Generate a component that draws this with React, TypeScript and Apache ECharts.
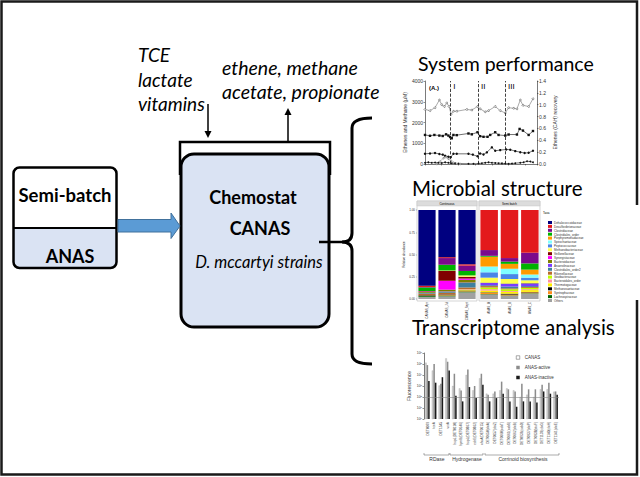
import React, { useEffect, useRef } from "react";
import * as echarts from "echarts";

// ---------- System performance (line chart) ----------
const recDays = [0, 15, 30, 43, 50, 58, 65, 72, 78, 85, 95, 125, 140, 157, 165, 180, 190, 210, 225, 240, 250, 265, 275, 285, 293, 310, 323];
const recovery = [0.92, 0.9, 0.95, 1.08, 1.0, 0.97, 1.03, 0.97, 0.84, 0.89, 0.89, 0.92, 0.91, 0.97, 0.93, 0.88, 0.9, 0.97, 0.9, 0.86, 0.95, 0.94, 0.93, 1.08, 0.99, 0.97, 1.1];
const sqDays = [0, 15, 28, 43, 53, 63, 70, 75, 80, 85, 95, 130, 140, 157, 165, 175, 187, 195, 210, 220, 240, 250, 275, 283, 293, 310, 323];
const ethene = [1400, 1360, 1400, 1370, 1350, 1430, 1370, 1300, 1240, 1400, 1390, 1470, 1430, 1530, 1340, 1310, 1310, 1400, 1530, 1400, 1370, 1420, 1420, 1690, 1610, 1400, 1590];
const ciDays = [0, 15, 30, 43, 53, 60, 70, 77, 85, 95, 130, 143, 157, 165, 175, 185, 200, 210, 225, 243, 255, 270, 285, 298, 310, 323];
const methane = [490, 510, 530, 480, 450, 400, 350, 330, 490, 490, 490, 450, 370, 510, 460, 560, 800, 640, 670, 700, 690, 620, 570, 530, 540, 640];
const lowDays = [0, 10, 20, 30, 40, 50, 60, 70, 80, 90, 100, 130, 145, 160, 170, 180, 190, 200, 210, 220, 230, 240, 250, 260, 270, 285, 295, 305, 315, 323];
const vcVals = [60, 80, 60, 70, 60, 50, 80, 60, 40, 30, 20, 10, 10, 20, 40, 60, 80, 60, 50, 40, 30, 20, 10, 20, 40, 60, 80, 130, 120, 80];
const dcDays = [35, 45, 55, 62, 70, 78, 85, 95, 105];
const dcVals = [0, 120, 280, 330, 250, 150, 60, 10, 0];
const phaseDays = [77, 160, 241];
const phaseLabels = ["I", "II", "III"];

// ---------- Microbial structure (stacked bars) ----------
const taxa = [
  "Dehalococcoidaceae", "Desulfovibrionaceae", "Clostridiaceae", "Clostridiales_order",
  "Porphyromonadaceae", "Spirochaetaceae", "Peptococcaceae", "Methanobacteriaceae",
  "Veillonellaceae", "Synergistaceae", "Bacteroidaceae", "Anaerolinaceae",
  "Clostridiales_order2", "Rikenellaceae", "Geobacteraceae", "Bacteroidales_order",
  "Thermotogaceae", "Methanosaetaceae", "Syntrophaceae", "Lachnospiraceae", "Others",
];
const taxaColors = [
  "#000080", "#e31a1c", "#7b0a8c", "#00b300", "#ff9a00", "#7fffff", "#4a86e8", "#ffff4d",
  "#800000", "#ff00ff", "#808000", "#7a3cff", "#3f7f9f", "#b86b2e", "#bfff00", "#ff8fa0",
  "#ffee00", "#000000", "#ff8c1a", "#006400", "#a0a0a0",
];
const contSamples = ["CANAS_Apr", "CANAS_Jul", "CANAS_Sept"];
const semiSamples = ["ANAS_A", "ANAS_B", "ANAS_C"];
const contA = [0.85, 0.015, 0.005, 0.04, 0, 0, 0, 0, 0.005, 0.005, 0.01, 0, 0.01, 0.015, 0, 0, 0, 0.005, 0.005, 0.01, 0.025];
const contB = [0.53, 0.01, 0.075, 0.065, 0, 0, 0, 0.005, 0.11, 0.1, 0.02, 0.005, 0.01, 0.02, 0, 0, 0, 0.005, 0.005, 0.01, 0.03];
const contC = [0.61, 0.015, 0.06, 0.05, 0, 0, 0, 0.015, 0.02, 0.015, 0.03, 0.005, 0.05, 0.02, 0, 0.005, 0.01, 0.005, 0.005, 0.01, 0.075];
const semiA = [0, 0.45, 0.065, 0.01, 0.11, 0.065, 0.06, 0.055, 0, 0, 0.005, 0.025, 0.01, 0.015, 0.02, 0.015, 0.02, 0.005, 0.015, 0.005, 0.05];
const semiB = [0, 0.54, 0.04, 0.025, 0.055, 0.06, 0.055, 0.05, 0, 0, 0.005, 0.03, 0.02, 0.01, 0.02, 0.01, 0.02, 0.01, 0.01, 0.005, 0.035];
const semiC = [0, 0.48, 0.12, 0.07, 0.055, 0.035, 0.03, 0.03, 0, 0, 0.005, 0.03, 0.01, 0.01, 0.015, 0.01, 0.02, 0.005, 0.01, 0.005, 0.06];

// ---------- Transcriptome analysis (log bars) ----------
const genes = [
  "DET0079", "tceA", "DET1545", "vcrA",
  "hupL(DET0110)", "hymB(DET0146)", "hupL(DET0867)", "echE(DET0862)", "vhuA(DET0615)",
  "DET0650(cbiA)", "DET0657(cbiZ)", "DET0660(cobT)", "DET0661(cobS)", "DET0662(cbiB)",
  "DET0936(cobD)", "DET0937(cbiP)", "DET0938(btuF)", "DET1139(cbiG)", "DET1140(cbiH)", "DET1141(cbiE)",
];
const geneGroups = ["RDase", "Hydrogenase", "Corrinoid biosynthesis"];
const canas = [1.3e5, 2.5e4, 1.1e3, 3.2e5, 1.0e3, 6.0e2, 1.0e4, 4.0e2, 5.0e3, 2.0e2, 2.0e2, 4.0e2, 6.0e2, 4.0e2, 1.0e2, 1.6e2, 1.0e2, 5.0e2, 5.0e2, 3.0e2];
const anasActive = [8.0e4, 1.0e5, 1.6e3, 1.6e5, 1.3e4, 4.0e2, 3.2e4, 1.0e3, 1.3e4, 1.6e2, 3.2e2, 2.5e3, 5.0e2, 3.2e2, 1.6e3, 5.0e2, 5.0e2, 1.3e3, 2.0e3, 3.2e2];
const anasInactive = [2.9e3, 2.0e3, 6.3e3, 2.5e4, 1.3e2, 4.0e1, 8.0e2, 8.0e1, 1.3e3, 4.0e1, 8.0e1, 2.0e2, 4.0e1, 1.3e1, 4.0e1, 4.0e1, 3.2e1, 3.2e2, 2.0e2, 1.6e2];

const BRACE =
  "M372,118 Q352,118 352,128 L352,233 Q352,242 342,242 Q352,242 352,251 L352,354 Q352,364 372,364";
echarts.graphic.registerShape("brace", echarts.graphic.extendPath(BRACE, {}));

const SANS = "Liberation Sans";
const BIG = "Lato";

function zip(xs: number[], ys: number[]) {
  return xs.map((x, i) => [x, ys[i]]);
}

export default function App() {
  const ref = useRef<HTMLDivElement>(null);
  useEffect(() => {
    if (!ref.current) return;
    const chart = echarts.init(ref.current, undefined, { renderer: "svg" });
    const tiny = { fontFamily: SANS, color: "#333" };

    const stackSeries: any[] = [];
    for (let i = taxa.length - 1; i >= 0; i--) {
      stackSeries.push({
        type: "bar", name: taxa[i], xAxisIndex: 1, yAxisIndex: 2, stack: "cont",
        barWidth: "86%", itemStyle: { color: taxaColors[i] },
        data: [contA[i], contB[i], contC[i]],
      });
      stackSeries.push({
        type: "bar", name: taxa[i], xAxisIndex: 2, yAxisIndex: 3, stack: "semi",
        barWidth: "86%", itemStyle: { color: taxaColors[i] },
        data: [semiA[i], semiB[i], semiC[i]],
      });
    }

    const txt = (text: string, x: number, y: number, o: any = {}) => ({
      type: "text", silent: true,
      style: { text, x, y, fill: "#000", fontFamily: BIG, fontSize: 19, align: "left", verticalAlign: "middle", ...o },
    });

    const axisLineBlack = { show: true, lineStyle: { color: "#222", width: 0.6 } };
    const openMarker = { color: "#fff", borderColor: "#444", borderWidth: 0.5 };

    chart.setOption({
      animation: false,
      backgroundColor: "#fff",
      grid: [
        { left: 425, top: 81, width: 112, height: 83 },
        { left: 417, top: 210, width: 60, height: 89 },
        { left: 479, top: 210, width: 61, height: 89 },
        { left: 424, top: 353, width: 135, height: 66 },
      ],
      xAxis: [
        { gridIndex: 0, type: "value", min: 0, max: 335, axisLabel: { show: false }, axisTick: { length: 1.5, lineStyle: { width: 0.5 } }, splitLine: { show: false }, axisLine: axisLineBlack },
        { gridIndex: 1, type: "category", data: contSamples, axisLabel: { rotate: 90, fontSize: 3, interval: 0, margin: 3, ...tiny }, axisTick: { show: false }, axisLine: { show: false } },
        { gridIndex: 2, type: "category", data: semiSamples, axisLabel: { rotate: 90, fontSize: 3, interval: 0, margin: 3, ...tiny }, axisTick: { show: false }, axisLine: { show: false } },
        { gridIndex: 3, type: "category", data: genes, axisLabel: { rotate: 90, fontSize: 3.2, interval: 0, margin: 3, ...tiny }, axisTick: { show: false }, axisLine: { show: false } },
      ],
      yAxis: [
        { gridIndex: 0, type: "value", min: 0, max: 4000, interval: 1000, name: "Ethenes and Methane (µM)", nameLocation: "middle", nameGap: 15, nameTextStyle: { fontSize: 5, ...tiny }, axisLabel: { fontSize: 5, margin: 2, formatter: (v: number) => String(v), ...tiny }, axisLine: axisLineBlack, axisTick: { show: true, length: 1.5, lineStyle: { width: 0.5 } }, splitLine: { show: false } },
        { gridIndex: 0, type: "value", position: "right", min: 0, max: 1.4, interval: 0.2, name: "Ethenes (CAH) recovery", nameLocation: "middle", nameGap: 15, nameRotate: 90, nameTextStyle: { fontSize: 5, ...tiny }, axisLabel: { fontSize: 5, margin: 2, formatter: (v: number) => v.toFixed(1), ...tiny }, axisLine: axisLineBlack, axisTick: { show: true, length: 1.5, lineStyle: { width: 0.5 } }, splitLine: { show: false } },
        { gridIndex: 1, type: "value", min: 0, max: 1, interval: 0.25, name: "Relative abundance", nameLocation: "middle", nameGap: 9, nameTextStyle: { fontSize: 3, ...tiny }, axisLabel: { fontSize: 3, margin: 2, formatter: (v: number) => v.toFixed(2), ...tiny }, axisLine: { show: false }, axisTick: { show: true, length: 1, lineStyle: { width: 0.4, color: "#555" } }, splitLine: { show: false } },
        { gridIndex: 2, type: "value", min: 0, max: 1, show: false },
        { gridIndex: 3, type: "log", logBase: 10, min: 1, max: 1e6, name: "Fluorescence", nameLocation: "middle", nameGap: 13, nameTextStyle: { fontSize: 5, ...tiny },
          axisLabel: { fontSize: 3.5, margin: 2, ...tiny, formatter: (v: number) => "10{s|" + Math.round(Math.log10(v)) + "}", rich: { s: { fontSize: 2.5, padding: [0, 0, 2, 0], fontFamily: SANS, color: "#333" } } },
          axisLine: axisLineBlack, axisTick: { show: true, length: 1.5, lineStyle: { width: 0.5 } }, splitLine: { show: false } },
      ],
      legend: [
        { data: taxa, left: 543, top: 216, orient: "vertical", icon: "rect", itemWidth: 4, itemHeight: 3, itemGap: 0.9, selectedMode: false, textStyle: { fontSize: 3, fontFamily: SANS, color: "#333", padding: [0, 0, 0, -3] } },
        { data: [
            { name: "CANAS", itemStyle: { color: "#fff", borderColor: "#555", borderWidth: 0.5 } },
            { name: "ANAS-active" },
            { name: "ANAS-inactive" },
          ], left: 511, top: 350, orient: "vertical", icon: "rect", itemWidth: 3.5, itemHeight: 3.5, itemGap: 5, selectedMode: false, textStyle: { fontSize: 4.5, fontFamily: SANS, color: "#333" } },
      ],
      series: [
        { type: "line", name: "recovery", xAxisIndex: 0, yAxisIndex: 1, data: zip(recDays, recovery), symbol: "circle", symbolSize: 1.8, lineStyle: { color: "#555", width: 0.5 }, itemStyle: openMarker,
          markLine: { silent: true, symbol: "none", label: { show: false }, lineStyle: { type: "dashed", color: "#111", width: 0.8 }, data: phaseDays.map((d) => ({ xAxis: d })) } },
        { type: "line", name: "ethene", xAxisIndex: 0, yAxisIndex: 0, data: zip(sqDays, ethene), symbol: "rect", symbolSize: 2.4, lineStyle: { color: "#111", width: 0.6 }, itemStyle: { color: "#111", borderWidth: 0 } },
        { type: "line", name: "methane", xAxisIndex: 0, yAxisIndex: 0, data: zip(ciDays, methane), symbol: "circle", symbolSize: 2.4, lineStyle: { color: "#111", width: 0.6 }, itemStyle: { color: "#111", borderWidth: 0 } },
        { type: "line", name: "VC", xAxisIndex: 0, yAxisIndex: 0, data: zip(lowDays, vcVals), symbol: "circle", symbolSize: 1.8, lineStyle: { color: "#111", width: 0.6 }, itemStyle: { color: "#111", borderWidth: 0 } },
        { type: "line", name: "DCE", xAxisIndex: 0, yAxisIndex: 0, data: zip(dcDays, dcVals), symbol: "circle", symbolSize: 1.6, lineStyle: { color: "#333", width: 0.4, type: "dotted" }, itemStyle: openMarker },
        ...stackSeries,
        { type: "bar", name: "CANAS", xAxisIndex: 3, yAxisIndex: 4, data: canas, barGap: "0%", barCategoryGap: "32%", itemStyle: { color: "#d4d4d4", borderColor: "#777", borderWidth: 0.2 },
          markLine: { silent: true, symbol: "none", label: { show: false }, lineStyle: { type: "solid", color: "#888", width: 0.6 }, data: [{ yAxis: 100 }] } },
        { type: "bar", name: "ANAS-active", xAxisIndex: 3, yAxisIndex: 4, data: anasActive, itemStyle: { color: "#8c8c8c" } },
        { type: "bar", name: "ANAS-inactive", xAxisIndex: 3, yAxisIndex: 4, data: anasInactive, itemStyle: { color: "#1a1a1a" } },
      ],
      graphic: {
        elements: [
          // outer frame
          { type: "polyline", silent: true, shape: { points: [[637, 205], [637, 1.5], [1.5, 1.5], [1.5, 474.5], [637, 474.5], [637, 300]] }, style: { stroke: "#1a1a1a", fill: "none", lineWidth: 2.5 } },
          // inputs / outputs text
          txt("TCE", 138, 54, { fontStyle: "italic" }),
          txt("lactate", 138, 79, { fontStyle: "italic" }),
          txt("vitamins", 138, 103, { fontStyle: "italic" }),
          txt("ethene, methane", 222, 67, { fontStyle: "italic", fontSize: 19.5 }),
          txt("acetate, propionate", 222, 91, { fontStyle: "italic", fontSize: 19.5 }),
          // arrows
          { type: "line", silent: true, shape: { x1: 208, y1: 104, x2: 208, y2: 133 }, style: { stroke: "#000", lineWidth: 1.5 } },
          { type: "polygon", silent: true, shape: { points: [[204.5, 131], [211.5, 131], [208, 138]] }, style: { fill: "#000" } },
          { type: "line", silent: true, shape: { x1: 288, y1: 142, x2: 288, y2: 113 }, style: { stroke: "#000", lineWidth: 1.5 } },
          { type: "polygon", silent: true, shape: { points: [[284.5, 115], [291.5, 115], [288, 108]] }, style: { fill: "#000" } },
          // chemostat vessel
          { type: "polyline", silent: true, shape: { points: [[180, 175], [180, 142], [330, 142], [330, 175]] }, style: { stroke: "#000", fill: "none", lineWidth: 2.5 } },
          { type: "rect", silent: true, shape: { x: 181, y: 154, width: 148, height: 173, r: 13 }, style: { fill: "#dae3f3", stroke: "#000", lineWidth: 3 } },
          txt("Chemostat", 253, 197, { fontWeight: "bold", align: "center", fontSize: 18 }),
          txt("CANAS", 260, 228, { fontWeight: "bold", align: "center", fontSize: 18 }),
          txt("D. mccartyi strains", 259, 262, { fontStyle: "italic", align: "center", fontSize: 16.5 }),
          // semi-batch vessel
          { type: "rect", silent: true, shape: { x: 13.5, y: 167.5, width: 103, height: 100.5, r: 6 }, style: { fill: "#fff", stroke: "none" } },
          { type: "rect", silent: true, shape: { x: 13.5, y: 228, width: 103, height: 40, r: [0, 0, 6, 6] }, style: { fill: "#dae3f3", stroke: "none" } },
          { type: "line", silent: true, shape: { x1: 13.5, y1: 228, x2: 116.5, y2: 228 }, style: { stroke: "#000", lineWidth: 2 } },
          { type: "rect", silent: true, shape: { x: 13.5, y: 167.5, width: 103, height: 100.5, r: 6 }, style: { fill: "none", stroke: "#000", lineWidth: 2.5 } },
          txt("Semi-batch", 65, 195, { fontWeight: "bold", align: "center", fontSize: 18.5 }),
          txt("ANAS", 70, 256, { fontWeight: "bold", align: "center", fontSize: 18 }),
          // transfer arrow
          { type: "polygon", silent: true, shape: { points: [[118, 219.5], [171, 219.5], [171, 213], [180, 226], [171, 238.5], [171, 232], [118, 232]] }, style: { fill: "#5b9bd5", stroke: "#41719c", lineWidth: 1 } },
          // connector + brace
          { type: "line", silent: true, shape: { x1: 319, y1: 242, x2: 344, y2: 242 }, style: { stroke: "#000", lineWidth: 2.5 } },
          { type: "brace", silent: true, style: { stroke: "#000", fill: "none", lineWidth: 3 } },
          // right-hand titles
          txt("System performance", 418, 63, { fontSize: 19.5 }),
          txt("Microbial structure", 412, 188, { fontSize: 20.5 }),
          txt("Transcriptome analysis", 412, 327, { fontSize: 20.5 }),
          // line chart annotations
          txt("(A.)", 429, 88, { fontFamily: SANS, fontSize: 6, fontWeight: "bold" }),
          ...phaseDays.map((d, i) => txt(phaseLabels[i], 425 + (d / 335) * 112 + 2.5, 86, { fontFamily: SANS, fontSize: 8 })),
          // facet panels
          { type: "rect", silent: true, shape: { x: 417, y: 201, width: 60, height: 100 }, style: { fill: "none", stroke: "#bbb", lineWidth: 0.6 } },
          { type: "rect", silent: true, shape: { x: 479, y: 201, width: 61, height: 100 }, style: { fill: "none", stroke: "#bbb", lineWidth: 0.6 } },
          { type: "rect", silent: true, shape: { x: 417, y: 201, width: 60, height: 5 }, style: { fill: "#dcdcdc", stroke: "#bbb", lineWidth: 0.4 } },
          { type: "rect", silent: true, shape: { x: 479, y: 201, width: 61, height: 5 }, style: { fill: "#dcdcdc", stroke: "#bbb", lineWidth: 0.4 } },
          txt("Continuous", 447, 203.6, { fontFamily: SANS, fontSize: 3, align: "center" }),
          txt("Semi batch", 509.5, 203.6, { fontFamily: SANS, fontSize: 3, align: "center" }),
          txt("Taxa", 543, 213, { fontFamily: SANS, fontSize: 3 }),
          // gene group brackets
          { type: "polyline", silent: true, shape: { points: [[424, 453], [424, 455], [449, 455], [449, 453]] }, style: { stroke: "#555", fill: "none", lineWidth: 0.5 } },
          { type: "polyline", silent: true, shape: { points: [[450, 453], [450, 455], [483, 455], [483, 453]] }, style: { stroke: "#555", fill: "none", lineWidth: 0.5 } },
          { type: "polyline", silent: true, shape: { points: [[485, 453], [485, 455], [559, 455], [559, 453]] }, style: { stroke: "#555", fill: "none", lineWidth: 0.5 } },
          txt(geneGroups[0], 437, 459, { fontFamily: SANS, fontSize: 5, align: "center", fill: "#333" }),
          txt(geneGroups[1], 467, 459, { fontFamily: SANS, fontSize: 5, align: "center", fill: "#333" }),
          txt(geneGroups[2], 523, 459, { fontFamily: SANS, fontSize: 5, align: "center", fill: "#333" }),
        ],
      },
    });
    return () => chart.dispose();
  }, []);
  return <div ref={ref} style={{ position: "absolute", left: 0, top: 0, width: 640, height: 477 }} />;
}
